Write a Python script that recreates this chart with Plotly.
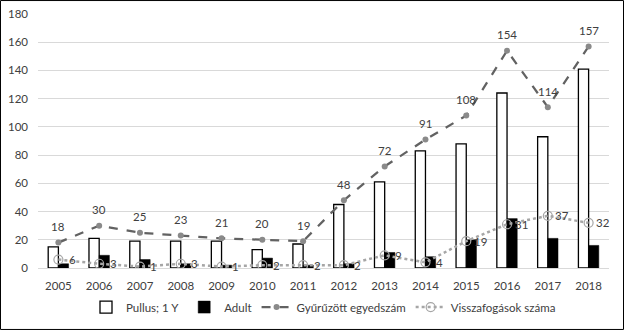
import plotly.graph_objects as go

years = ["2005", "2006", "2007", "2008", "2009", "2010", "2011", "2012",
         "2013", "2014", "2015", "2016", "2017", "2018"]
pullus = [15, 21, 19, 19, 19, 13, 17, 45, 61, 83, 88, 124, 93, 141]
adult = [3, 9, 6, 3, 2, 7, 2, 3, 11, 8, 20, 35, 21, 16]
gyuruzott = [18, 30, 25, 23, 21, 20, 19, 48, 72, 91, 108, 154, 114, 157]
visszafogas = [6, 3, 1, 3, 1, 2, 2, 2, 9, 4, 19, 31, 37, 32]
y_ticks = [0, 20, 40, 60, 80, 100, 120, 140, 160, 180]

FONT = "Lato, 'Open Sans', sans-serif"
TXT = "#404040"

fig = go.Figure()
fig.add_trace(go.Bar(x=years, y=pullus, name="Pullus; 1 Y",
                     marker=dict(color="white", line=dict(color="black", width=1.3))))
fig.add_trace(go.Bar(x=years, y=adult, name="Adult",
                     marker=dict(color="black", line=dict(color="black", width=0.5))))
fig.add_trace(go.Scatter(x=years, y=gyuruzott, name="Gyűrűzött egyedszám",
                         mode="lines+markers",
                         line=dict(color="#626262", width=2.25, dash="dash"),
                         marker=dict(symbol="circle", size=6, color="#8a8a8a")))
fig.add_trace(go.Scatter(x=years, y=visszafogas, name="Visszafogások száma",
                         mode="lines+markers",
                         line=dict(color="#a6a6a6", width=2.5, dash="dot"),
                         marker=dict(symbol="circle-open", size=9,
                                     line=dict(color="#8a7fbf", width=1.2))))

annotations = []
for i, v in enumerate(gyuruzott):
    annotations.append(dict(x=i, y=v, text=str(v), showarrow=False, yshift=16,
                            font=dict(family=FONT, size=11.5, color=TXT)))
for i, v in enumerate(visszafogas):
    annotations.append(dict(x=i, y=v, text=str(v), showarrow=False, xshift=14,
                            font=dict(family=FONT, size=11.5, color=TXT)))

fig.update_layout(
    width=624, height=330,
    margin=dict(l=38, r=15, t=14, b=62, autoexpand=False),
    paper_bgcolor="white", plot_bgcolor="white",
    barmode="group", bargap=0.5, bargroupgap=0,
    font=dict(family=FONT, size=11, color=TXT),
    showlegend=True,
    legend=dict(orientation="h", x=0.5, xanchor="center", y=-0.154, yanchor="middle",
                font=dict(family=FONT, size=11.5, color=TXT), itemwidth=30,
                traceorder="normal"),
    annotations=annotations,
    shapes=[dict(type="rect", xref="paper", yref="paper",
                 x0=-0.0657, x1=1.0254, y0=-0.242, y1=1.053,
                 line=dict(color="black", width=1), layer="above")],
)
fig.update_xaxes(type="category", range=[-0.5, len(years) - 0.5], showgrid=False,
                 showline=True, linecolor="#d9d9d9", ticklabelstandoff=7, automargin=False,
                 ticks="", tickfont=dict(family=FONT, size=11.5, color=TXT))
fig.update_yaxes(range=[0, 180], tickvals=y_ticks, showgrid=True, gridcolor="#d9d9d9",
                 zeroline=False, showline=False, ticks="", ticklabelstandoff=9,
                 automargin=False,
                 tickfont=dict(family=FONT, size=11.5, color=TXT))

fig.write_html("out.html")
